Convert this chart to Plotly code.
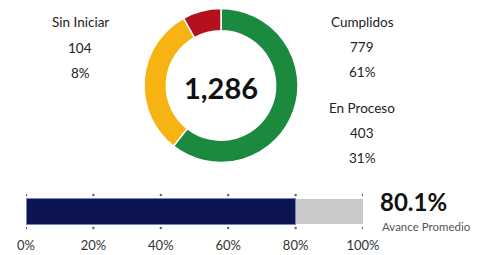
import plotly.graph_objects as go

categories = ["Cumplidos", "En Proceso", "Sin Iniciar"]
values = [779, 403, 104]
percents = ["61%", "31%", "8%"]
colors = ["#1b8a3e", "#f6b312", "#b3121c"]
total_label = "1,286"
avance = 80.1
tick_vals = [0, 20, 40, 60, 80, 100]
tick_text = ["0%", "20%", "40%", "60%", "80%", "100%"]

W, H = 480, 255
def py(p):
    return 1 - p / H
def px(p):
    return p / W

fig = go.Figure()
fig.add_trace(go.Pie(
    labels=categories, values=values, hole=0.71, sort=False,
    direction="clockwise", rotation=0,
    marker=dict(colors=colors, line=dict(color="white", width=1.5)),
    textinfo="none", hoverinfo="label+value+percent",
    domain=dict(x=[px(144), px(298)], y=[py(163), py(8)]),
    showlegend=False,
))

fig.add_trace(go.Bar(x=[avance], y=[0], orientation="h", width=1.33,
                     marker=dict(color="#0c1452", line=dict(color="#6f86c8", width=1)),
                     xaxis="x", yaxis="y", showlegend=False))
fig.add_trace(go.Bar(x=[100 - avance], y=[0], orientation="h", width=1.33,
                     marker=dict(color="#c9c9c9", line=dict(width=0)),
                     xaxis="x", yaxis="y", showlegend=False))
fig.add_trace(go.Scatter(x=tick_vals + tick_vals, y=[0.85] * len(tick_vals) + [-0.85] * len(tick_vals),
                         mode="markers", marker=dict(size=2.5, color="#666"),
                         xaxis="x", yaxis="y", showlegend=False, hoverinfo="skip"))

fig.update_layout(
    width=W, height=H, margin=dict(l=0, r=0, t=0, b=0, autoexpand=False),
    paper_bgcolor="white", plot_bgcolor="white",
    barmode="stack", showlegend=False,
    xaxis=dict(domain=[px(26), px(363)], range=[0, 100], tickvals=tick_vals, ticktext=tick_text,
               showgrid=False, zeroline=False, showline=False, ticks="", automargin=False,
               tickfont=dict(family="Lato", size=13, color="#333"), ticklabelstandoff=5,
               fixedrange=True),
    yaxis=dict(domain=[py(231), py(192)], range=[-1, 1], visible=False, fixedrange=True,
               automargin=False),
)

font_lbl = dict(family="Lato", size=13.5, color="#222")
def txt(x, y, s, **kw):
    f = dict(font_lbl)
    f.update(kw.pop("font", {}))
    fig.add_annotation(x=px(x), y=py(y), xref="paper", yref="paper", text=s,
                       showarrow=False, font=f, xanchor=kw.pop("xanchor", "center"),
                       yanchor="middle", **kw)

# left labels (Sin Iniciar)
txt(80, 22, categories[2]); txt(80, 48, str(values[2])); txt(80, 73, percents[2])
# right labels
txt(362, 22, categories[0]); txt(362, 47, str(values[0])); txt(362, 72, percents[0])
txt(362, 108, categories[1]); txt(362, 133, str(values[1])); txt(362, 158, percents[1])

txt(221, 87, "<b>" + total_label + "</b>", font=dict(family="Lato", size=29, color="#111"))
txt(378, 201, f"<b>{avance}%</b>", xanchor="left", font=dict(family="Lato", size=24, color="#111"))
txt(380, 226, "Avance Promedio", xanchor="left", font=dict(family="Lato", size=11.5, color="#555"))

fig.write_html(
    "out.html",
    config={"displayModeBar": False},
    post_script="document.body.style.margin='0';document.body.style.overflow='hidden';",
)
